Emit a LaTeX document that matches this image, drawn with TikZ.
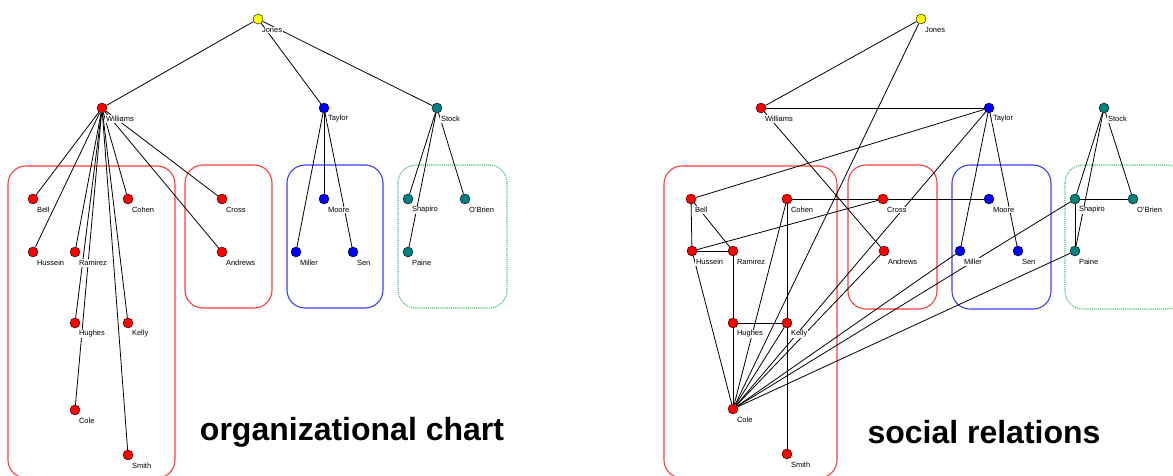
\documentclass[tikz,border=0pt]{standalone}
\usepackage{fontspec}
\setmainfont{Liberation Sans}
\usetikzlibrary{backgrounds}
\definecolor{nodered}{RGB}{255,0,0}
\definecolor{nodeblue}{RGB}{0,0,255}
\definecolor{nodeteal}{RGB}{0,128,128}
\definecolor{nodeyellow}{RGB}{255,255,0}
\definecolor{boxred}{RGB}{255,60,60}
\definecolor{boxblue}{RGB}{60,60,255}
\definecolor{boxgreen}{RGB}{70,190,110}

\begin{document}
\begin{tikzpicture}[x=1pt, y=-1pt,
        person/.style={circle, draw=black, line width=0.4pt, inner sep=0pt, minimum size=10pt},
        tag/.style={anchor=west, fill=white, inner sep=0.8pt, font=\fontsize{7.5}{8}\selectfont},
        tie/.style={black, line width=0.8pt},
        group/.style={rounded corners=18pt, line width=1.1pt},
        caption/.style={font=\fontsize{32}{36}\selectfont\bfseries}
    ]
        \useasboundingbox (0,0) rectangle (1173,475);

        % people: name / text / colour / org chart position / social position
        \foreach \n/\t/\c/\ox/\oy/\sx/\sy in {
            Jones/Jones/nodeyellow/258/19/921/19,
            Williams/Williams/nodered/102/108/761/108,
            Taylor/Taylor/nodeblue/324/108/989/108,
            Stock/Stock/nodeteal/437/108/1104/108,
            Bell/Bell/nodered/33/199/691/199,
            Cohen/Cohen/nodered/128/199/787/199,
            Cross/Cross/nodered/222/199/883/199,
            Moore/Moore/nodeblue/324/199/989/199,
            Shapiro/Shapiro/nodeteal/408/199/1075/199,
            OBrien/O'Brien/nodeteal/465/199/1133/199,
            Hussein/Hussein/nodered/33/252/692/251,
            Ramirez/Ramirez/nodered/75/252/733/251,
            Andrews/Andrews/nodered/222/252/884/251,
            Miller/Miller/nodeblue/296/252/960/251,
            Sen/Sen/nodeblue/353/252/1018/251,
            Paine/Paine/nodeteal/408/252/1075/251,
            Hughes/Hughes/nodered/75/323/733/323,
            Kelly/Kelly/nodered/128/323/787/323,
            Cole/Cole/nodered/75/410/733/409,
            Smith/Smith/nodered/128/455/787/454}{
            \node[tag] (o\n-t) at (\ox+3,\oy+11) {\t};
            \node[person, fill=\c] (o\n) at (\ox,\oy) {};
            \node[tag] (s\n-t) at (\sx+3,\sy+11) {\t};
            \node[person, fill=\c] (s\n) at (\sx,\sy) {};
        }

        \node[caption] (orgtitle) at (352,432) {organizational chart};
        \node[caption] (soctitle) at (984,432) {social relations};

        \begin{scope}[on background layer]
            % departments
            \draw[group, boxred] (8,166) rectangle (175,478);
            \draw[group, boxred] (185,165) rectangle (272,308);
            \draw[group, boxblue] (287,165) rectangle (383,308);
            \draw[group, boxgreen, densely dotted] (398,165) rectangle (507,308);
            \draw[group, boxred] (664,166) rectangle (837,478);
            \draw[group, boxred] (848,165) rectangle (937,309);
            \draw[group, boxblue] (952,165) rectangle (1051,309);
            \draw[group, boxgreen, densely dotted] (1065,165) rectangle (1185,309);

            % formal reporting lines
            \foreach \a/\b in {Jones/Williams, Jones/Taylor, Jones/Stock,
                Williams/Bell, Williams/Hussein, Williams/Ramirez, Williams/Hughes,
                Williams/Cole, Williams/Kelly, Williams/Smith, Williams/Cohen,
                Williams/Cross, Williams/Andrews,
                Taylor/Moore, Taylor/Miller, Taylor/Sen,
                Stock/Shapiro, Stock/Paine, Stock/OBrien}
                \draw[tie] (o\a) -- (o\b);

            % informal ties
            \foreach \a/\b in {Jones/Williams, Jones/Cole,
                Williams/Taylor, Williams/Andrews,
                Taylor/Bell, Taylor/Cole, Taylor/Miller, Taylor/Sen,
                Stock/Shapiro, Stock/Paine, Stock/OBrien,
                Shapiro/OBrien, Shapiro/Paine,
                Cohen/Cross, Cross/Moore, Cohen/Kelly, Kelly/Smith,
                Bell/Hussein, Bell/Ramirez, Hussein/Ramirez, Hussein/Cross,
                Hussein/Cole, Ramirez/Hughes, Hughes/Cole, Hughes/Kelly,
                Cole/Cohen, Cole/Kelly, Cole/Andrews, Cole/Miller,
                Cole/Shapiro, Cole/Paine}
                \draw[tie] (s\a) -- (s\b);
        \end{scope}
    \end{tikzpicture}
\end{document}
